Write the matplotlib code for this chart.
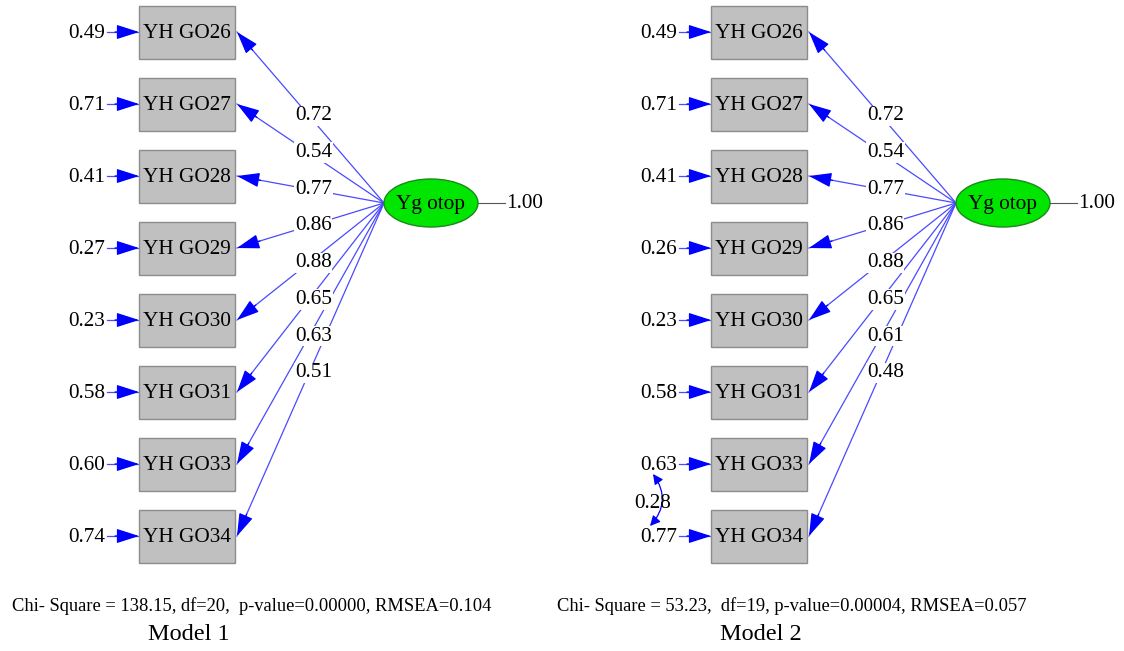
import matplotlib.pyplot as plt
from matplotlib.patches import Rectangle, Ellipse, FancyArrowPatch
import numpy as np

plt.rcParams['font.family'] = ['Liberation Serif', 'DejaVu Serif']

items = ['YH GO26', 'YH GO27', 'YH GO28', 'YH GO29',
         'YH GO30', 'YH GO31', 'YH GO33', 'YH GO34']
factor = 'Yg otop'

load1 = ['0.72', '0.54', '0.77', '0.86', '0.88', '0.65', '0.63', '0.51']
err1 = ['0.49', '0.71', '0.41', '0.27', '0.23', '0.58', '0.60', '0.74']
load2 = ['0.72', '0.54', '0.77', '0.86', '0.88', '0.65', '0.61', '0.48']
err2 = ['0.49', '0.71', '0.41', '0.26', '0.23', '0.58', '0.63', '0.77']
corr2 = ('YH GO33', 'YH GO34', '0.28')

fit1 = 'Chi- Square = 138.15, df=20,  p-value=0.00000, RMSEA=0.104'
fit2 = 'Chi- Square = 53.23,  df=19, p-value=0.00004, RMSEA=0.057'
titles = ['Model 1', 'Model 2']

LINE = '#4a4aff'
HEAD = '#0000ff'
FS = 15.3


def arrow(ax, p0, p1, hl=14, hw=4.5):
    ax.plot([p0[0], p1[0]], [p0[1], p1[1]], color=LINE, lw=0.9, zorder=1)
    d = np.array(p1) - np.array(p0)
    d = d / np.hypot(*d)
    start = np.array(p1) - d * 24
    a = FancyArrowPatch(tuple(start), p1, shrinkA=0, shrinkB=0,
                        arrowstyle='-|>,head_length=%s,head_width=%s' % (hl, hw),
                        color=HEAD, lw=0.9, zorder=2)
    ax.add_patch(a)


def draw_model(ax, dx, loads, errs, fit, title, corr=None):
    bx0, bw, bh = 139 + dx, 96, 53
    ys = np.linspace(32, 536, len(items))
    ex, ey, ew, eh = 431 + dx, 203, 94, 48
    left = (ex - ew / 2, ey)
    for i, name in enumerate(items):
        y = ys[i]
        ax.add_patch(Rectangle((bx0, y - bh / 2), bw, bh, facecolor='#c0c0c0',
                               edgecolor='#8c8c8c', lw=1, zorder=3))
        ax.text(bx0 + bw / 2, y + 1, name, ha='center', va='center',
                fontsize=FS, zorder=4)
        # error term
        ax.text(bx0 - 34, y + 1, errs[i], ha='right', va='center', fontsize=FS, zorder=4)
        arrow(ax, (bx0 - 32, y), (bx0, y), hl=14, hw=4.5)
        # loading
        tip = (bx0 + bw + 2, y)
        arrow(ax, left, tip)
        lx = left[0] + 0.48 * (tip[0] - left[0])
        ly = left[1] + 0.51 * (tip[1] - left[1])
        ax.text(lx, ly, loads[i], ha='center', va='center', fontsize=FS, zorder=4,
                bbox=dict(facecolor='white', edgecolor='none', pad=0.5))
    ax.add_patch(Ellipse((ex, ey), ew, eh, facecolor='#00e600',
                         edgecolor='#1a8a1a', lw=1, zorder=3))
    ax.text(ex, ey + 1, factor, ha='center', va='center', fontsize=FS, zorder=4)
    ax.plot([ex + ew / 2, ex + ew / 2 + 27], [ey, ey], color='#555555', lw=0.8)
    ax.text(ex + ew / 2 + 28, ey + 1, '1.00', ha='left', va='center', fontsize=FS)
    if corr is not None:
        i0, i1 = items.index(corr[0]), items.index(corr[1])
        a = FancyArrowPatch((bx0 - 58, ys[i0] + 10), (bx0 - 61, ys[i1] - 10),
                            connectionstyle='arc3,rad=-0.4', shrinkA=0, shrinkB=0,
                            arrowstyle='<|-|>,head_length=6,head_width=3',
                            color=HEAD, lw=0.9, zorder=2)
        ax.add_patch(a)
        ax.text(bx0 - 58, (ys[i0] + ys[i1]) / 2 + 3, corr[2], ha='center',
                va='center', fontsize=FS, zorder=4)
    ax.text(12 + dx * 0.953, 606, fit, ha='left', va='center', fontsize=13.35)
    ax.text(189 + dx, 634, title, ha='center', va='center', fontsize=17.5)


fig = plt.figure(figsize=(11.24, 6.51), dpi=100)
ax = fig.add_axes([0, 0, 1, 1])
ax.set_xlim(0, 1124)
ax.set_ylim(651, 0)
ax.axis('off')

draw_model(ax, 0, load1, err1, fit1, titles[0])
draw_model(ax, 572, load2, err2, fit2, titles[1], corr=corr2)

fig.savefig('out.png', dpi=100)
